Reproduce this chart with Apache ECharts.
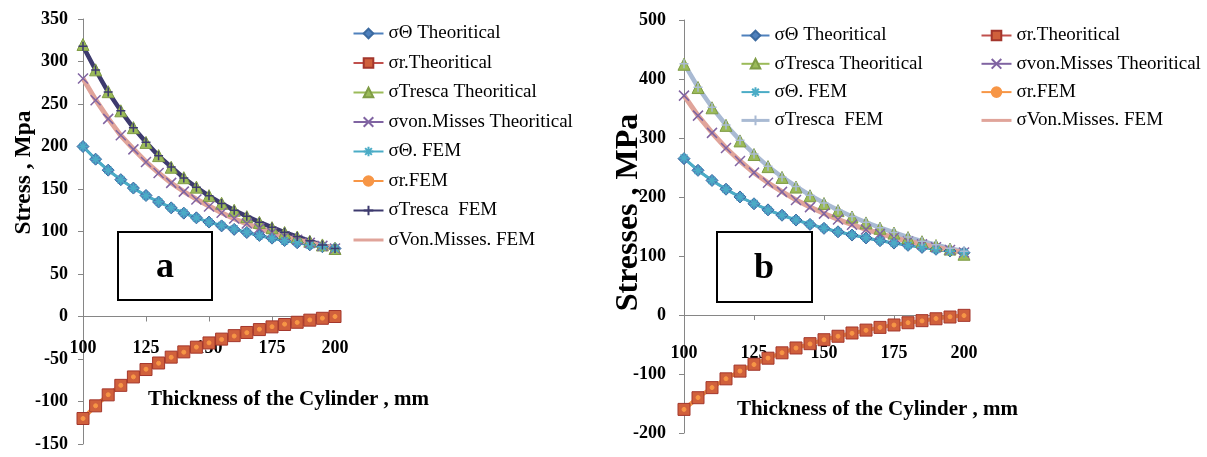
<!DOCTYPE html>
<html>
<head>
<meta charset="utf-8">
<script src="https://cdn.jsdelivr.net/npm/echarts@6/dist/echarts.min.js"></script>
<style>
  html, body { margin: 0; padding: 0; background: #fff; }
  #chart { width: 1207px; height: 457px; }
</style>
</head>
<body>
<div id="chart"></div>
<script>
// thickness of the cylinder, mm
const thickness = [100, 105, 110, 115, 120, 125, 130, 135, 140, 145, 150, 155, 160, 165, 170, 175, 180, 185, 190, 195, 200];

// chart (a)
const aThetaTh = [200, 185.1, 172.2, 161.0, 151.1, 142.4, 134.7, 127.8, 121.6, 116.1, 111.1, 106.6, 102.5, 98.8, 95.4, 92.2, 89.4, 86.8, 84.3, 82.1, 80];
const aRadialTh = [-120, -105.1, -92.2, -81.0, -71.1, -62.4, -54.7, -47.8, -41.6, -36.1, -31.1, -26.6, -22.5, -18.8, -15.4, -12.2, -9.4, -6.8, -4.3, -2.1, 0];
const aTrescaTh = [320, 290.2, 264.5, 242.0, 222.2, 204.8, 189.3, 175.6, 163.3, 152.2, 142.2, 133.2, 125, 117.5, 110.7, 104.5, 98.8, 93.5, 88.6, 84.2, 80];
const aVonMisesTh = [280, 254.5, 232.5, 213.3, 196.6, 181.8, 168.8, 157.2, 146.9, 137.7, 129.5, 122.1, 115.4, 109.4, 103.9, 98.9, 94.4, 90.3, 86.6, 83.1, 80];
const aThetaFem = [200, 185, 172, 161, 151, 142, 135, 128, 122, 116, 111, 107, 103, 99, 95, 92, 89, 87, 84, 82, 80];
const aRadialFem = [-120, -105, -92, -81, -71, -62, -55, -48, -42, -36, -31, -27, -23, -19, -15, -12, -9, -7, -4, -2, 0];
const aTrescaFem = [318, 290, 264, 242, 222, 205, 189, 176, 163, 152, 142, 133, 125, 118, 111, 105, 99, 94, 89, 84, 80];
const aVonMisesFem = [280, 255, 233, 213, 197, 182, 169, 157, 147, 138, 130, 122, 115, 109, 104, 99, 94, 90, 87, 83, 80];

// chart (b)
const bThetaTh = [265.0, 245.2, 228.1, 213.2, 200.1, 188.5, 178.2, 169.1, 160.9, 153.6, 146.9, 141.0, 135.5, 130.6, 126.0, 121.9, 118.1, 114.6, 111.4, 108.4, 105.6];
const bRadialTh = [-160.0, -140.2, -123.1, -108.2, -95.1, -83.5, -73.2, -64.1, -55.9, -48.6, -41.9, -36.0, -30.5, -25.6, -21.0, -16.9, -13.1, -9.6, -6.4, -3.4, -0.6];
const bTrescaTh = [425, 385.5, 351.2, 321.4, 295.1, 272.0, 251.5, 233.2, 216.8, 202.1, 188.9, 176.9, 166.0, 156.1, 147.1, 138.8, 131.2, 124.2, 117.7, 111.8, 103];
const bVonMisesTh = [371.8, 337.9, 308.7, 283.2, 260.9, 241.3, 224.0, 208.7, 195.0, 182.8, 171.8, 161.9, 153.1, 145.0, 137.8, 131.2, 125.1, 119.7, 114.7, 110.1, 105.9];
const bThetaFem = [266, 245, 228, 213, 200, 189, 178, 169, 161, 154, 147, 141, 136, 131, 126, 122, 118, 115, 111, 108, 106];
const bRadialFem = [-160, -140, -123, -108, -95, -84, -73, -64, -56, -49, -42, -36, -31, -26, -21, -17, -13, -10, -6, -3, -1];
const bTrescaFem = [426, 386, 352, 322, 296, 273, 252, 234, 218, 203, 190, 178, 167, 157, 148, 140, 132, 125, 119, 113, 108];
const bVonMisesFem = [372, 338, 309, 283, 261, 241, 224, 209, 195, 183, 172, 162, 153, 145, 138, 131, 125, 120, 115, 110, 106];

const names = ["σΘ Theoritical", "σr.Theoritical", "σTresca Theoritical", "σvon.Misses Theoritical",
  "σΘ. FEM", "σr.FEM", "σTresca  FEM", "σVon.Misses. FEM"];

const SERIF = '"Liberation Serif", "DejaVu Serif", serif';
const crossPath = "path://M0,0L10,10M10,0L0,10";
const starPath = "path://M5,0L5,10M0,5L10,5M1.5,1.5L8.5,8.5M8.5,1.5L1.5,8.5";
const plusPath = "path://M5,0L5,10M0,5L10,5";

function pairs(vals) {
  return thickness.map((t, i) => [t, vals[i]]);
}

function line(name, idx, vals, color, symbol, size, opts) {
  opts = opts || {};
  return {
    name: name,
    type: "line",
    xAxisIndex: idx,
    yAxisIndex: idx,
    data: pairs(vals),
    symbol: symbol,
    symbolSize: size,
    showAllSymbol: true,
    lineStyle: { color: opts.lineColor || color, width: opts.width || 2.5 },
    itemStyle: {
      color: color,
      borderColor: opts.border || color,
      borderWidth: opts.borderWidth || 1
    },
    emphasis: { disabled: true },
    z: 2
  };
}

function seriesFor(idx, d, trescaFemColor) {
  return [
    line(names[0], idx, d[0], "#4F81BD", "diamond", 12, { border: "#3B6AA0" }),
    line(names[1], idx, d[1], "#D0603C", "rect", 12, { border: "#A3362C", lineColor: "#C0504D" }),
    line(names[2], idx, d[2], "#9BBB59", "triangle", 12, { border: "#7F9C45" }),
    line(names[3], idx, d[3], "#8064A2", crossPath, 10, { borderWidth: 1.5 }),
    line(names[4], idx, d[4], "#4BACC6", starPath, 10, { borderWidth: 1.5, width: 3 }),
    line(names[5], idx, d[5], "#F79646", "circle", 4, { width: 4 }),
    line(names[6], idx, d[6], trescaFemColor, plusPath, 9, { borderWidth: 1.5, width: 4.5 }),
    line(names[7], idx, d[7], "#E0A49A", "none", 0, { width: 5 })
  ];
}

function yAxis(idx, min, max, interval, name, nameGap, nameSize, shift, margin) {
  return {
    type: "value",
    gridIndex: idx,
    min: min,
    max: max,
    interval: interval,
    name: name,
    nameLocation: "middle",
    nameGap: nameGap,
    nameMoveOverlap: false,
    nameTextStyle: { fontFamily: SERIF, fontWeight: "bold", fontSize: nameSize, color: "#000", padding: [0, 0, 0, shift] },
    splitLine: { show: false },
    axisLine: { show: true, lineStyle: { color: "#868686", width: 1 } },
    axisTick: { show: true, length: 5, lineStyle: { color: "#868686" } },
    axisLabel: { fontFamily: SERIF, fontWeight: "bold", fontSize: 18, color: "#000", margin: margin }
  };
}

// labels and title sit between the zero line and the bottom of the grid
function xAxis(idx, margin, nameGap, shift) {
  return {
    type: "value",
    gridIndex: idx,
    min: 100,
    max: 200,
    interval: 25,
    name: "Thickness of the Cylinder , mm",
    nameLocation: "middle",
    nameGap: nameGap,
    nameMoveOverlap: false,
    nameTextStyle: { fontFamily: SERIF, fontWeight: "bold", fontSize: 21, color: "#000", padding: [0, 0, 0, shift] },
    splitLine: { show: false },
    axisLine: { onZero: true, lineStyle: { color: "#868686", width: 1 } },
    axisTick: { show: true, length: 5, lineStyle: { color: "#868686" } },
    axisLabel: { fontFamily: SERIF, fontWeight: "bold", fontSize: 18, color: "#000", margin: margin }
  };
}

function legend(left, top, data, gap, iw) {
  return {
    orient: "vertical",
    left: left,
    top: top,
    padding: 0,
    itemGap: gap,
    itemWidth: iw,
    itemHeight: 12,
    selectedMode: false,
    data: data,
    textStyle: { fontFamily: SERIF, fontSize: 19, color: "#000", lineHeight: 18 }
  };
}

// plain line icon for the series drawn without markers
const vmFemLegend = { name: names[7], itemStyle: { color: "transparent", borderColor: "transparent" }, lineStyle: { width: 3 } };
const trescaFemLegendB = { name: names[6], itemStyle: { color: "#A9BAD3", borderColor: "#A9BAD3" }, lineStyle: { color: "#A9BAD3", width: 3 } };

const chart = echarts.init(document.getElementById("chart"));

chart.setOption({
  animation: false,
  backgroundColor: "#fff",
  grid: [
    { left: 83, top: 19, width: 252, height: 425, outerBoundsMode: "none", containLabel: false },
    { left: 684, top: 20, width: 280, height: 413, outerBoundsMode: "none", containLabel: false }
  ],
  xAxis: [xAxis(0, -105, -54.5, 159), xAxis(1, -89, -33.5, 107)],
  yAxis: [
    yAxis(0, -150, 350, 50, "Stress , Mpa", 47, 23.5, 118, 15),
    yAxis(1, -200, 500, 100, "Stresses , MPa", 39, 32, 28, 18)
  ],
  legend: [
    legend(352, 24, names.slice(0, 7).concat([vmFemLegend]), 10.5, 30),
    legend(740, 26, [names[0], names[2], names[4], trescaFemLegendB], 9.3, 28),
    legend(980, 26, [names[1], names[3], names[5], vmFemLegend], 9.3, 30)
  ],
  graphic: [
    { type: "rect", shape: { x: 118, y: 232, width: 94, height: 68 }, style: { fill: "#fff", stroke: "#000", lineWidth: 2 }, z: 10 },
    { type: "text", x: 165, y: 268, style: { text: "a", font: 'bold 36px "Liberation Serif"', fill: "#000", align: "center", verticalAlign: "middle" }, z: 11 },
    { type: "rect", shape: { x: 717, y: 232, width: 95, height: 70 }, style: { fill: "#fff", stroke: "#000", lineWidth: 2 }, z: 10 },
    { type: "text", x: 764, y: 269, style: { text: "b", font: 'bold 36px "Liberation Serif"', fill: "#000", align: "center", verticalAlign: "middle" }, z: 11 }
  ],
  series: [].concat(
    seriesFor(0, [aThetaTh, aRadialTh, aTrescaTh, aVonMisesTh, aThetaFem, aRadialFem, aTrescaFem, aVonMisesFem], "#3D3A6E"),
    seriesFor(1, [bThetaTh, bRadialTh, bTrescaTh, bVonMisesTh, bThetaFem, bRadialFem, bTrescaFem, bVonMisesFem], "#A9BAD3")
  )
});
</script>
</body>
</html>
